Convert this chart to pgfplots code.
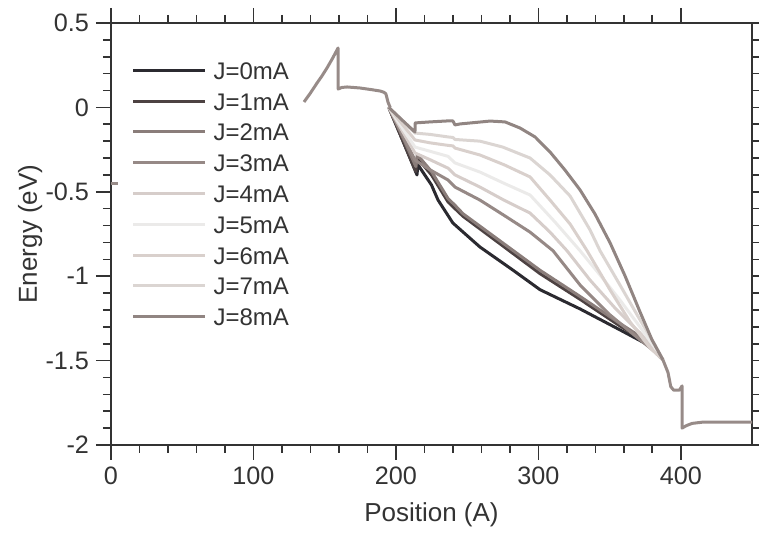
\documentclass[border=0pt]{standalone}
\usepackage{fontspec}
\setmainfont{Liberation Sans}
\usepackage{pgfplots}
\pgfplotsset{compat=1.18}
\definecolor{cJ0}{HTML}{2B2A30}
\definecolor{cJ1}{HTML}{4D4242}
\definecolor{cJ2}{HTML}{8A7D7A}
\definecolor{cJ3}{HTML}{968986}
\definecolor{cJ4}{HTML}{D6CDCA}
\definecolor{cJ5}{HTML}{EBEAE9}
\definecolor{cJ6}{HTML}{D9D0CC}
\definecolor{cJ7}{HTML}{DBD5D2}
\definecolor{cJ8}{HTML}{918582}
\definecolor{cCom}{HTML}{978B88}
\definecolor{axc}{HTML}{333333}
\begin{document}
\begin{tikzpicture}
\begin{axis}[
  scale only axis, width=320.5pt, height=211pt,
  xmin=0, xmax=450, ymin=-2, ymax=0.5,
  xtick={0,100,200,300,400}, ytick={-2,-1.5,-1,-0.5,0,0.5},
  yticklabels={-2,-1.5,-1,-0.5,0,0.5},
  minor x tick num=4, minor y tick num=4,
  tick pos=both, tick align=outside,
  major tick length=7.5pt, minor tick length=4pt,
  axis line style={axc, line width=0.8pt},
  every tick/.style={axc, line width=0.8pt},
  /pgf/number format/assume math mode=true,
  tick label style={font=\fontsize{12.6}{14}\selectfont, text=axc},
  xlabel={Position (A)}, ylabel={Energy (eV)},
  label style={font=\fontsize{13}{15}\selectfont, text=axc},
  xlabel style={at={(axis description cs:0.5,-0.166)}, anchor=center},
  ylabel style={at={(axis description cs:-0.126,0.5)}, anchor=center},
  legend style={draw=none, fill=none, at={(axis description cs:0.022,0.9195)}, anchor=north west,
    font=\fontsize{12}{14}\selectfont, text=axc,
    nodes={inner sep=0pt, text height=9pt, text depth=0pt},
    row sep=6.4pt},
  legend cell align=left,
  legend image code/.code={\draw[#1, line width=1.5pt] (0pt,0pt) -- (36pt,0pt);},
  /tikz/every odd column/.append style={column sep=3.5pt},
  every axis plot/.append style={line width=1.5pt, line join=round},
]
% J=0
\addplot[cJ0] coordinates {(195,0) (205,-0.2) (214.8,-0.40) (215.5,-0.34) (225,-0.46) (229.6,-0.549) (240,-0.685) (259,-0.827) (282,-0.963) (301.2,-1.08) (329.3,-1.194) (357.3,-1.318) (378.4,-1.413) (387.5,-1.496)};
\addlegendentry{J=0mA}
% J=1
\addplot[cJ1] coordinates {(195,0) (205,-0.2) (214,-0.38) (215,-0.30) (225,-0.40) (236.6,-0.56) (241.5,-0.60) (247.1,-0.645) (271,-0.795) (301.2,-0.985) (329.3,-1.137) (357.3,-1.295) (378.4,-1.405) (387.5,-1.496)};
\addlegendentry{J=1mA}
% J=2
\addplot[cJ2] coordinates {(195,0) (205,-0.18) (214,-0.35) (215,-0.28) (225,-0.38) (236.6,-0.54) (241.5,-0.58) (247.1,-0.63) (271,-0.778) (301.2,-0.965) (329.3,-1.12) (357.3,-1.28) (378.4,-1.395) (387.5,-1.496)};
\addlegendentry{J=2mA}
% J=3
\addplot[cJ3] coordinates {(195,0) (213.4,-0.312) (224,-0.37) (236.6,-0.43) (241.5,-0.472) (259,-0.549) (276,-0.64) (294.2,-0.739) (310.3,-0.849) (329.3,-1.052) (350.4,-1.230) (371.4,-1.377) (381.9,-1.448) (387.5,-1.496)};
\addlegendentry{J=3mA}
% J=4
\addplot[cJ4] coordinates {(195,0) (213.4,-0.270) (224,-0.31) (236.6,-0.36) (241.5,-0.400) (259,-0.472) (276,-0.55) (294.2,-0.626) (308.2,-0.739) (320.1,-0.849) (336.3,-1.023) (353.8,-1.188) (371.4,-1.336) (381.9,-1.437) (387.5,-1.496)};
\addlegendentry{J=4mA}
% J=5
\addplot[cJ5] coordinates {(195,0) (213.4,-0.235) (224,-0.26) (236.6,-0.29) (241.5,-0.329) (259,-0.383) (276,-0.45) (294.2,-0.519) (311.7,-0.679) (329.3,-0.849) (343.3,-0.993) (357.3,-1.141) (371.4,-1.301) (381.9,-1.425) (387.5,-1.496)};
\addlegendentry{J=5mA}
% J=6
\addplot[cJ6] coordinates {(195,0) (213.4,-0.193) (224,-0.21) (236.6,-0.225) (240,-0.228) (241.5,-0.241) (259,-0.282) (276,-0.34) (294.2,-0.412) (308.2,-0.549) (322.3,-0.691) (334.2,-0.849) (350.4,-1.082) (364.4,-1.271) (378.4,-1.425) (387.5,-1.496)};
\addlegendentry{J=6mA}
% J=7
\addplot[cJ7] coordinates {(195,0) (213.4,-0.152) (224,-0.16) (236.6,-0.175) (240,-0.178) (241.5,-0.19) (259,-0.20) (275,-0.235) (294.2,-0.300) (308.2,-0.400) (322.3,-0.525) (336.3,-0.726) (343.3,-0.849) (357.3,-1.052) (371.4,-1.259) (381.9,-1.407) (387.5,-1.496)};
\addlegendentry{J=7mA}
% J=8
\addplot[cJ8] coordinates {(195,0) (205,-0.08) (213.4,-0.146) (213.5,-0.092) (224,-0.086) (236.6,-0.080) (240,-0.08) (241.5,-0.104) (245,-0.098) (255,-0.09) (266.1,-0.081) (276.6,-0.086) (287.1,-0.122) (297.7,-0.175) (308.2,-0.264) (318.7,-0.371) (329.3,-0.489) (339.8,-0.632) (350.4,-0.803) (360.9,-0.999) (371.4,-1.212) (379.8,-1.377) (387.5,-1.496)};
\addlegendentry{J=8mA}
% common parts
\addplot[cCom, forget plot] coordinates {(135.5,0.032) (140,0.085) (144.6,0.144) (148,0.185) (151.6,0.233) (155.5,0.29) (159.4,0.352) (159.5,0.109) (162,0.118) (165.7,0.121) (174.8,0.115) (183,0.105) (188.9,0.097) (191.5,0.09) (193,0.08) (194.5,0.03) (196,0.0)};
\addplot[cCom, forget plot] coordinates {(387.5,-1.496) (391,-1.57) (393,-1.655) (395,-1.675) (399,-1.675) (400.9,-1.65) (400.9,-1.90) (404,-1.885) (408,-1.872) (415,-1.865) (450,-1.865)};
\addplot[cCom, forget plot] coordinates {(0,-0.45) (5,-0.45)};
\path (rel axis cs:0,0) coordinate (sw) (rel axis cs:1,1) coordinate (ne);
\end{axis}
\pgfresetboundingbox
\path[use as bounding box] ([xshift=-55.5pt,yshift=-47pt]sw) rectangle ([xshift=3.5pt,yshift=11.5pt]ne);
\end{tikzpicture}
\end{document}
